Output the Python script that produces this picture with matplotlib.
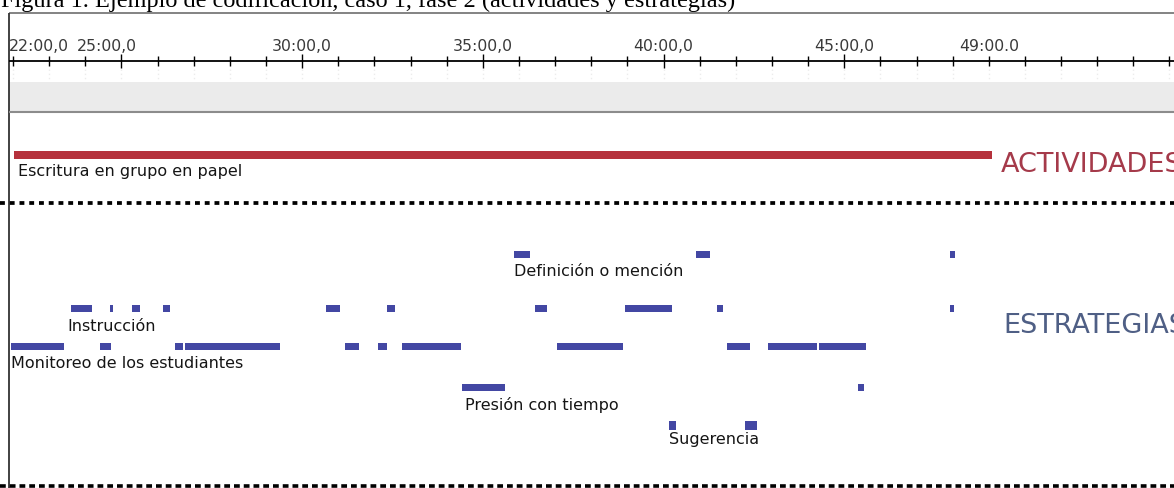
import matplotlib
matplotlib.use("Agg")
import matplotlib.pyplot as plt

# --- data (minutes into the session) ---
tick_minutes = list(range(22, 55))
major_minutes = [25, 30, 35, 40, 45]
label_minutes = [22, 25, 30, 35, 40, 45, 49]
label_texts = ["22:00,0", "25:00,0", "30:00,0", "35:00,0", "40:00,0", "45:00,0", "49:00.0"]
label_nudge = [0.71, -0.41, 0, 0, 0, 0, 0]

caption = "Figura 1. Ejemplo de codificación, caso 1, fase 2 (actividades y estrategias)"

actividad = "Escritura en grupo en papel"
actividad_tramos = [(22.02, 49.08)]

estrategias = ["Definición o mención", "Instrucción", "Monitoreo de los estudiantes",
               "Presión con tiempo", "Sugerencia"]
definicion = [(35.86, 36.31), (40.90, 41.29), (47.93, 48.07)]
instruccion = [(23.60, 24.19), (24.68, 24.77), (25.29, 25.51), (26.15, 26.34),
               (30.66, 31.05), (32.35, 32.57), (36.44, 36.78), (38.93, 40.23),
               (41.48, 41.65), (47.93, 48.04)]
monitoreo = [(21.95, 23.41), (24.41, 24.71), (26.48, 26.70), (26.76, 29.39),
             (31.19, 31.57), (32.10, 32.35), (32.76, 34.40), (37.05, 38.88),
             (41.76, 42.39), (42.89, 44.25), (44.30, 45.60)]
presion = [(34.42, 35.61), (45.38, 45.55)]
sugerencia = [(40.15, 40.35), (42.25, 42.59)]
tramos = [definicion, instruccion, monitoreo, presion, sugerencia]

# --- layout (pixels) ---
W, H = 1174, 489
px_per_min = 36.14
t_left = 22 - 13 / px_per_min
t_right = t_left + W / px_per_min
x_border = t_left + 9 / px_per_min
row_y = [255.5, 309, 347, 388, 426]
row_h = [7, 7, 7, 7, 9]
label_off = [21, 22, 21, 22, 18]
label_shift = [0, -0.1, 0, 0.1, 0]

blue = "#4347a3"
red = "#b5313c"

fig = plt.figure(figsize=(W / 100, H / 100), dpi=100)
ax = fig.add_axes([0, 0, 1, 1])
ax.set_xlim(t_left, t_right)
ax.set_ylim(H, 0)
ax.axis("off")

# caption, cut by the top edge
ax.text(t_left + 1 / px_per_min, 7.5, caption, family="Liberation Serif", fontsize=17.5,
        va="baseline", ha="left", color="black")

# frame
ax.hlines(14, x_border, t_right, color="#6e6e6e", lw=1.2)
ax.vlines(x_border, 14, H, color="#333333", lw=1.3)

# time ruler
ax.hlines(61.5, x_border, t_right, color="black", lw=1.3)
minor = [m for m in tick_minutes if m not in major_minutes]
ax.vlines(minor, 57, 67, color="black", lw=1)
ax.vlines(major_minutes, 55, 69, color="black", lw=1)
ax.vlines(tick_minutes, 70, 81, color="#ececec", lw=1, linestyles=(0, (1, 2)))
for m, txt, dn in zip(label_minutes, label_texts, label_nudge):
    ax.text(m + dn, 51, txt, fontsize=11.3, color="#3a3a3a", ha="center", va="baseline")

# grey header band
ax.fill_between([x_border, t_right], 83, 112.5, color="#ebebeb", lw=0)
ax.hlines(113, x_border, t_right, color="#8c8c8c", lw=1.5)

# activities
ax.broken_barh([(s, e - s) for s, e in actividad_tramos], (152, 7.5), facecolors=red)
ax.text(actividad_tramos[0][0] + 4 / px_per_min, 176, actividad, fontsize=11.5,
        color="#151515", va="baseline", ha="left")
ax.text(t_left + 1001 / px_per_min, 172, "ACTIVIDADES", fontsize=19.5,
        color="#a53a4a", va="baseline", ha="left")

# separators
ax.plot([t_left, t_right], [203.5, 203.5], color="black", lw=2.7,
        linestyle=(0, (1.3, 1.3)), dash_capstyle="butt")
ax.plot([t_left, t_right], [487, 487], color="black", lw=2.6,
        linestyle=(0, (1.6, 1.1)), dash_capstyle="butt")

# strategies
for name, segs, y, h, off, sh in zip(estrategias, tramos, row_y, row_h, label_off, label_shift):
    ax.broken_barh([(s, e - s) for s, e in segs], (y - h / 2, h), facecolors=blue)
    ax.text(segs[0][0] + sh, y + off, name, fontsize=11.5, color="#151515",
            va="baseline", ha="left")
ax.text(t_left + 1003 / px_per_min, 333, "ESTRATEGIAS", fontsize=19.5,
        color="#4f5f85", va="baseline", ha="left")

fig.savefig("out.png", dpi=100)
